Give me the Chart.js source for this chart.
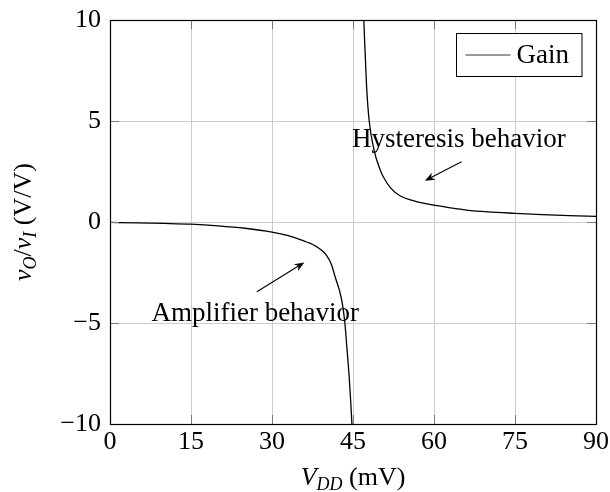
<!DOCTYPE html>
<html>
<head>
<meta charset="utf-8">
<script src="https://cdn.jsdelivr.net/npm/chart.js@4/dist/chart.umd.min.js"></script>
<style>
  html, body { margin: 0; padding: 0; background: #fff; }
</style>
</head>
<body>
<canvas id="gain" width="610" height="492"></canvas>
<script>
// Small-signal gain vs. supply voltage: amplifier branch below the pole,
// hysteresis branch above it.

var VDD_AMP  = [0, 5, 10, 15, 20, 25, 30, 33, 36, 37, 38, 39, 40, 41, 41.7, 42.5, 43, 43.5, 43.8, 44.3, 44.6, 44.8];
var GAIN_AMP = [-0.02, -0.04, -0.07, -0.11, -0.19, -0.31, -0.5, -0.68, -0.95, -1.05, -1.18, -1.36, -1.62, -2.1, -2.72, -3.4, -4.0, -5.0, -6.0, -7.7, -9.0, -10];

var VDD_HYS  = [47.0, 47.5, 48.0, 48.9, 50.0, 50.6, 52.0, 53.7, 56.0, 58.0, 60.0, 63.0, 66.0, 70.0, 75.0, 80.0, 85.0, 90.0];
var GAIN_HYS = [10, 6.8, 5, 3.56, 2.6, 2.24, 1.68, 1.3, 1.07, 0.93, 0.83, 0.7, 0.59, 0.5, 0.43, 0.37, 0.32, 0.28];

var X_TICKS = [0, 15, 30, 45, 60, 75, 90];
var Y_TICKS = [-10, -5, 0, 5, 10];

var SERIES_LABEL = "Gain";

// callouts: text anchor (baseline centre) and arrow tail -> head, in data units
var NOTES = [
  { text: "Hysteresis behavior", at: [64.6, 3.72], from: [65.1, 2.98], to: [58.3, 2.04] },
  { text: "Amplifier behavior",  at: [26.9, -4.88], from: [27.2, -3.45], to: [36.0, -2.0] }
];

var SERIF = "'Liberation Serif', 'DejaVu Serif', serif";
var FS = 26;

function pts(xs, ys) {
  return xs.map(function (x, i) { return { x: x, y: ys[i] }; });
}

function tickText(v) {
  return v < 0 ? "\u2212" + Math.abs(v) : String(v);
}

// draws [text, italic, subscript] runs centred on x with baseline y
function richText(ctx, runs, x, y, size) {
  var subSize = Math.round(size * 0.7);
  function font(r) {
    return (r[1] ? "italic " : "") + (r[2] ? subSize : size) + "px " + SERIF;
  }
  var w = 0;
  runs.forEach(function (r) { ctx.font = font(r); w += ctx.measureText(r[0]).width; });
  var cx = x - w / 2;
  ctx.textAlign = "left";
  ctx.textBaseline = "alphabetic";
  runs.forEach(function (r) {
    ctx.font = font(r);
    ctx.fillText(r[0], cx, y + (r[2] ? size * 0.2 : 0));
    cx += ctx.measureText(r[0]).width;
  });
}

function arrow(ctx, x0, y0, x1, y1) {
  var a = Math.atan2(y1 - y0, x1 - x0), L = 10, W = 4;
  var c = Math.cos(a), s = Math.sin(a);
  ctx.beginPath();
  ctx.moveTo(x0, y0);
  ctx.lineTo(x1 - c * L * 0.7, y1 - s * L * 0.7);
  ctx.stroke();
  ctx.beginPath();
  ctx.moveTo(x1, y1);
  ctx.lineTo(x1 - c * L - s * W, y1 - s * L + c * W);
  ctx.lineTo(x1 - c * L * 0.7, y1 - s * L * 0.7);
  ctx.lineTo(x1 - c * L + s * W, y1 - s * L - c * W);
  ctx.closePath();
  ctx.fill();
}

var decor = {
  id: "decor",
  afterDatasetsDraw: function (chart) {
    var ctx = chart.ctx, a = chart.chartArea;
    var xs = chart.scales.x, ys = chart.scales.y;
    ctx.save();

    // inward tick marks
    ctx.strokeStyle = "#7a7a7a";
    ctx.lineWidth = 1;
    var tl = 9;
    X_TICKS.forEach(function (v) {
      var px = Math.round(xs.getPixelForValue(v)) + 0.5;
      ctx.beginPath();
      ctx.moveTo(px, a.bottom); ctx.lineTo(px, a.bottom - tl);
      ctx.moveTo(px, a.top); ctx.lineTo(px, a.top + tl);
      ctx.stroke();
    });
    Y_TICKS.forEach(function (v) {
      var py = Math.round(ys.getPixelForValue(v)) + 0.5;
      ctx.beginPath();
      ctx.moveTo(a.left, py); ctx.lineTo(a.left + tl, py);
      ctx.moveTo(a.right, py); ctx.lineTo(a.right - tl, py);
      ctx.stroke();
    });

    // frame
    ctx.strokeStyle = "#000";
    ctx.lineWidth = 1.2;
    ctx.strokeRect(Math.round(a.left) + 0.5, Math.round(a.top) + 0.5,
                   Math.round(a.right - a.left), Math.round(a.bottom - a.top));

    // callouts
    ctx.fillStyle = "#000";
    ctx.lineWidth = 1.1;
    NOTES.forEach(function (n) {
      ctx.font = (FS + 1) + "px " + SERIF;
      ctx.textAlign = "center";
      ctx.textBaseline = "alphabetic";
      ctx.fillText(n.text, xs.getPixelForValue(n.at[0]), ys.getPixelForValue(n.at[1]));
      arrow(ctx, xs.getPixelForValue(n.from[0]), ys.getPixelForValue(n.from[1]),
                 xs.getPixelForValue(n.to[0]), ys.getPixelForValue(n.to[1]));
    });

    // legend box, top right inside the plot
    ctx.font = (FS + 1) + "px " + SERIF;
    var tw = ctx.measureText(SERIES_LABEL).width;
    var bw = 9 + 45 + 6 + tw + 13, bh = 43;
    var bx = Math.round(a.right - 15 - bw) + 0.5, by = Math.round(a.top + 13) + 0.5;
    ctx.fillStyle = "#fff";
    ctx.fillRect(bx, by, bw, bh);
    ctx.strokeStyle = "#000";
    ctx.lineWidth = 1;
    ctx.strokeRect(bx, by, bw, bh);
    ctx.strokeStyle = "#333";
    ctx.beginPath();
    ctx.moveTo(bx + 9, by + bh / 2);
    ctx.lineTo(bx + 54, by + bh / 2);
    ctx.stroke();
    ctx.fillStyle = "#000";
    ctx.textAlign = "left";
    ctx.textBaseline = "middle";
    ctx.fillText(SERIES_LABEL, bx + 60, by + bh / 2 + 1);

    // axis titles
    var midX = (a.left + a.right) / 2, midY = (a.top + a.bottom) / 2;
    richText(ctx, [["V", 1, 0], ["DD", 1, 1], [" (mV)", 0, 0]], midX, a.bottom + 61, FS);
    ctx.translate(31, midY);
    ctx.rotate(-Math.PI / 2);
    richText(ctx, [["v", 1, 0], ["O", 1, 1], ["/", 0, 0], ["v", 1, 0], ["I", 1, 1], [" (V/V)", 0, 0]], 0, 0, FS);
    ctx.restore();
  }
};

var data = pts(VDD_AMP, GAIN_AMP)
  .concat([{ x: 46, y: null }])
  .concat(pts(VDD_HYS, GAIN_HYS));

new Chart(document.getElementById("gain"), {
  type: "line",
  data: {
    datasets: [{
      label: SERIES_LABEL,
      data: data,
      borderColor: "#000",
      borderWidth: 1.3,
      pointRadius: 0,
      cubicInterpolationMode: "monotone",
      fill: false,
      spanGaps: false
    }]
  },
  options: {
    responsive: false,
    animation: false,
    devicePixelRatio: 1,
    parsing: false,
    layout: { padding: { top: 20, right: 14, left: 0, bottom: 0 } },
    plugins: { legend: { display: false }, tooltip: { enabled: false } },
    scales: {
      x: {
        type: "linear", min: 0, max: 90,
        afterBuildTicks: function (s) { s.ticks = X_TICKS.map(function (v) { return { value: v }; }); },
        afterFit: function (s) { s.height = 68; s.paddingLeft = 0; s.paddingRight = 0; },
        grid: { color: "#cccccc", lineWidth: 1, drawTicks: false },
        border: { display: false },
        ticks: { padding: 3, color: "#000", font: { family: SERIF, size: FS }, callback: tickText, maxRotation: 0 }
      },
      y: {
        type: "linear", min: -10, max: 10,
        afterBuildTicks: function (s) { s.ticks = Y_TICKS.map(function (v) { return { value: v }; }); },
        afterFit: function (s) { s.width = 110; s.paddingTop = 0; s.paddingBottom = 0; },
        grid: { color: "#cccccc", lineWidth: 1, drawTicks: false },
        border: { display: false },
        ticks: { padding: 9, color: "#000", font: { family: SERIF, size: FS }, callback: tickText }
      }
    }
  },
  plugins: [decor]
});
</script>
</body>
</html>
